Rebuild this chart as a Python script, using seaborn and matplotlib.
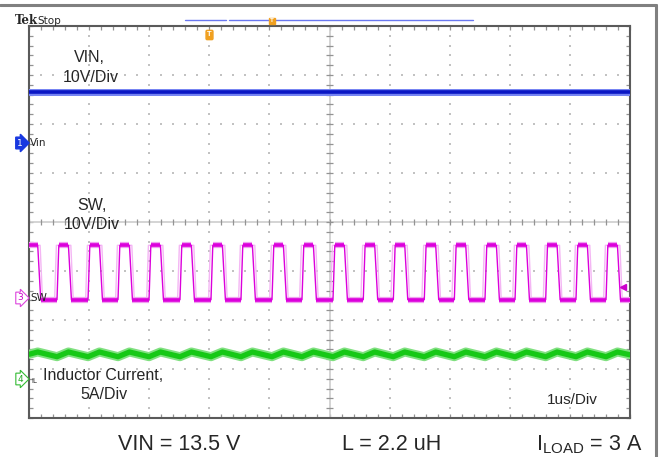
import numpy as np
import pandas as pd
import matplotlib
matplotlib.use("Agg")
import matplotlib.pyplot as plt
from matplotlib.lines import Line2D
import seaborn as sns

# ---------------- data (time in us, amplitude in screen divisions) ----------------
sw_rise = [0.466, 0.982, 1.481, 1.997, 2.512, 3.028, 3.527, 4.043, 4.542, 5.058,
           5.562, 6.062, 6.577, 7.077, 7.587, 8.087, 8.597, 9.101, 9.601]
sw_fall = [0.145, 0.656, 1.172, 1.671, 2.187, 2.702, 3.218, 3.717, 4.233, 4.732,
           5.248, 5.752, 6.252, 6.767, 7.267, 7.777, 8.277, 8.787, 9.291, 9.791]
sw_high = -0.476
sw_low = -1.586
vin_level = 2.66
il_peak = -2.653
il_valley = -2.749
il_start = -2.70
il_end = -2.71

W, H = 659, 457
sns.set_theme(style="white")
plt.rcParams["font.family"] = ["Liberation Sans", "DejaVu Sans"]
plt.rcParams["mathtext.fontset"] = "custom"
plt.rcParams["mathtext.rm"] = "Liberation Sans"

fig = plt.figure(figsize=(W / 100, H / 100), dpi=100)
fig.patch.set_facecolor("white")
ax = fig.add_axes([29 / W, 39 / H, 601 / W, 392 / H])
ax.set_facecolor("white")
ax.set_xlim(0, 10)
ax.set_ylim(-4, 4)

# ---------------- graticule ----------------
steps = np.arange(0, 10.001, 0.2)
vsteps = np.arange(-4, 4.001, 0.2)
gx, gy = [], []
for xv in range(1, 10):
    if xv == 5:
        continue
    gx += [xv] * len(vsteps)
    gy += list(vsteps)
for yv in range(-3, 4):
    if yv == 0:
        continue
    gx += list(steps)
    gy += [yv] * len(steps)
ax.scatter(gx, gy, s=1.4, marker="s", color="#c2c2c2", linewidths=0, zorder=1)
ax.axhline(0, color="#cdcdcd", lw=1.2, zorder=1)
ax.axvline(5, color="#cdcdcd", lw=1.2, zorder=1)
ax.vlines(steps, -0.07, 0.07, color="#939393", lw=0.9, zorder=1)
ax.hlines(vsteps, 5 - 0.06, 5 + 0.06, color="#939393", lw=0.9, zorder=1)

ax.set_xticks(steps)
ax.set_yticks(vsteps)
ax.tick_params(axis="both", which="both", direction="in", length=3.2, width=0.9,
               color="#939393", top=True, right=True, bottom=True, left=True,
               labelbottom=False, labelleft=False)
for sp in ax.spines.values():
    sp.set_color("#5a5a5a")
    sp.set_linewidth(1.5)
ax.set_xlabel("")
ax.set_ylabel("")

# ---------------- VIN trace ----------------
vin_df = pd.DataFrame({"t": [0, 10], "v": [vin_level, vin_level]})
sns.lineplot(data=vin_df, x="t", y="v", ax=ax, color="#7482f2", lw=5.0,
             estimator=None, sort=False, zorder=3)
sns.lineplot(data=vin_df, x="t", y="v", ax=ax, color="#0a16c4", lw=2.6,
             estimator=None, sort=False, zorder=4)

# ---------------- SW trace ----------------
events = sorted([(t, "r") for t in sw_rise] + [(t, "f") for t in sw_fall])
st, sv = [0.0], [sw_high]
gt, gv = [0.0], [sw_high]
for t, kind in events:
    if kind == "f":
        st += [t, t + 0.05]; sv += [sw_high, sw_low]
        gt += [t + 0.04, t + 0.08]; gv += [sw_high, sw_low]
    else:
        st += [t, t + 0.03]; sv += [sw_low, sw_high]
        gt += [t - 0.04, t - 0.01]; gv += [sw_low, sw_high]
st.append(10.0); sv.append(sw_low)
gt.append(10.0); gv.append(sw_low)
sw_df = pd.DataFrame({"t": st, "v": sv})
ghost_df = pd.DataFrame({"t": gt, "v": gv})
sns.lineplot(data=ghost_df, x="t", y="v", ax=ax, color="#f4b6f4", lw=1.0,
             estimator=None, sort=False, zorder=3)
sns.lineplot(data=sw_df, x="t", y="v", ax=ax, color="#dc00dc", lw=1.0,
             estimator=None, sort=False, zorder=4)
tops_s = [0.0] + [r + 0.03 for r in sw_rise]
tops_e = sw_fall
bots_s = [f + 0.05 for f in sw_fall]
bots_e = sw_rise + [10.0]
ax.hlines([sw_high] * len(tops_s), tops_s, tops_e, color="#f0a0f0", lw=4.5, zorder=3)
ax.hlines([sw_low] * len(bots_s), bots_s, bots_e, color="#f0a0f0", lw=4.5, zorder=3)
ax.hlines([sw_high] * len(tops_s), tops_s, tops_e, color="#dc00dc", lw=2.6, zorder=4)
ax.hlines([sw_low] * len(bots_s), bots_s, bots_e, color="#dc00dc", lw=2.6, zorder=4)

# ---------------- inductor current ----------------
it, iv = [0.0], [il_start]
for t, kind in events:
    it.append(t)
    iv.append(il_peak if kind == "f" else il_valley)
it.append(10.0); iv.append(il_end)
il_df = pd.DataFrame({"t": it, "v": iv})
sns.lineplot(data=il_df, x="t", y="v", ax=ax, color="#80e080", lw=6.5,
             estimator=None, sort=False, zorder=3)
sns.lineplot(data=il_df, x="t", y="v", ax=ax, color="#16c816", lw=3.8,
             estimator=None, sort=False, zorder=4)

# trigger level arrow
ax.plot([9.89], [-1.33], marker="<", color="#cc00cc", ms=5, zorder=5, clip_on=False)

def ptext(x, y, s, **kw):
    fig.text(x / W, 1 - y / H, s, **kw)

# outer frame
fig.add_artist(Line2D([0, 656 / W], [1 - 4.5 / H] * 2, transform=fig.transFigure,
                      color="#808080", lw=2.2))
fig.add_artist(Line2D([656 / W] * 2, [1 - 4.5 / H, 0], transform=fig.transFigure,
                      color="#808080", lw=2.2))

# status bar
ptext(15, 24.5, "Tek", fontsize=8.5, fontweight="bold", ha="left", va="baseline",
      family=["DejaVu Serif"])
ptext(37, 24.5, "Stop", fontsize=7.5, ha="left", va="baseline", family=["DejaVu Sans"])
fig.add_artist(Line2D([185 / W, 226 / W], [1 - 20 / H] * 2, transform=fig.transFigure,
                      color="#6a78f0", lw=1.0))
fig.add_artist(Line2D([229 / W, 473 / W], [1 - 20 / H] * 2, transform=fig.transFigure,
                      color="#6a78f0", lw=1.0))
ptext(272, 21, "T", fontsize=4.5, color="white", ha="center", va="center", fontweight="bold",
      bbox=dict(boxstyle="square,pad=0.12", fc="#f0a020", ec="#f0a020"))
ptext(209.5, 35, "T", fontsize=5.5, color="white", ha="center", va="center", fontweight="bold",
      bbox=dict(boxstyle="round,pad=0.15", fc="#f0a020", ec="#f0a020"))

# channel markers
ptext(20, 143, "1", fontsize=6.5, color="white", ha="center", va="center",
      family=["DejaVu Sans"],
      bbox=dict(boxstyle="rarrow,pad=0.15", fc="#1838e0", ec="#1838e0"))
ptext(30, 143, "Vin", fontsize=7.5, ha="left", va="center", family=["DejaVu Sans"])
ptext(20, 298, "3", fontsize=6.5, color="#cc00cc", ha="center", va="center",
      family=["DejaVu Sans"],
      bbox=dict(boxstyle="rarrow,pad=0.15", fc="white", ec="#dd44dd", lw=0.8))
ptext(30, 298, "SW", fontsize=7.5, ha="left", va="center", family=["DejaVu Sans"])
ptext(20, 379, "4", fontsize=6.5, color="#22aa22", ha="center", va="center",
      family=["DejaVu Sans"],
      bbox=dict(boxstyle="rarrow,pad=0.15", fc="white", ec="#33bb33", lw=0.8))
ptext(31, 381, "IL", fontsize=5, ha="left", va="center", family=["DejaVu Sans"])

# annotations
ptext(89, 62.5, "VIN,", fontsize=11.5, ha="center", va="baseline")
ptext(90.5, 81.5, "10V/Div", fontsize=11.5, ha="center", va="baseline")
ptext(92, 210.5, "SW,", fontsize=11.5, ha="center", va="baseline")
ptext(92, 229, "10V/Div", fontsize=11.5, ha="center", va="baseline")
ptext(43, 380, "Inductor Current,", fontsize=11.5, ha="left", va="baseline")
ptext(103.5, 399, "5A/Div", fontsize=11.5, ha="center", va="baseline")
ptext(572, 404, "1us/Div", fontsize=11, ha="center", va="baseline")

ptext(179.5, 450, "VIN = 13.5 V", fontsize=15.5, ha="center", va="baseline")
ptext(391.5, 450, "L = 2.2 uH", fontsize=15.5, ha="center", va="baseline")
ptext(589.5, 450, r"$\mathregular{I_{LOAD}}$ = 3 A", fontsize=15.5, ha="center", va="baseline")

fig.savefig("out.png", dpi=100, facecolor="white")
